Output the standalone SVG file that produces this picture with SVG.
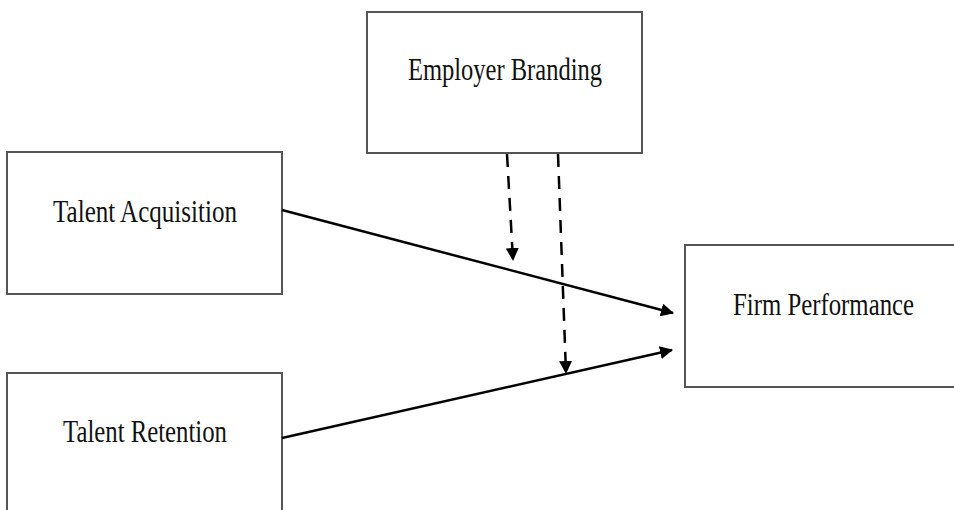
<svg xmlns="http://www.w3.org/2000/svg" width="954" height="510" viewBox="0 0 954 510">
<style>
.box{fill:#fff;stroke:#555;stroke-width:2}
.lbl{font-family:"Liberation Serif","Times New Roman",serif;font-size:31px;fill:#111;text-anchor:middle}
.edge{stroke:#000;stroke-width:2.5;fill:none}
.dash{stroke:#000;stroke-width:2.5;fill:none;stroke-dasharray:13,9}
</style>
<defs>
<marker id="ahl" markerWidth="13" markerHeight="13" refX="12" refY="6.5" orient="auto" markerUnits="userSpaceOnUse" viewBox="0 0 13 13">
<path d="M0,0 L13,6.5 L0,13 z" fill="#000"/>
</marker>
</defs>
<rect width="954" height="510" fill="#fff"/>
<g id="employer-branding">
<rect class="box" x="367" y="12" width="275" height="141"/>
<text class="lbl" x="505" y="80" textLength="194" lengthAdjust="spacingAndGlyphs">Employer Branding</text>
</g>
<g id="talent-acquisition">
<rect class="box" x="7" y="152" width="275" height="142"/>
<text class="lbl" x="145" y="222" textLength="184" lengthAdjust="spacingAndGlyphs">Talent Acquisition</text>
</g>
<g id="talent-retention">
<path class="box" d="M7,510 V373 H282 V510"/>
<text class="lbl" x="145" y="442" textLength="164" lengthAdjust="spacingAndGlyphs">Talent Retention</text>
</g>
<g id="firm-performance">
<path class="box" d="M954,245 H685 V387 H954"/>
<text class="lbl" transform="translate(823.5,315) scale(0.8,1)" x="0" y="0">Firm Performance</text>
</g>
<g id="connectors">
<line class="edge" x1="282" y1="210" x2="673" y2="313" marker-end="url(#ahl)"/>
<line class="edge" x1="282" y1="438" x2="672" y2="350" marker-end="url(#ahl)"/>
<line class="dash" x1="507" y1="154" x2="513" y2="260" marker-end="url(#ahl)"/>
<line class="dash" x1="558" y1="154" x2="566" y2="373" marker-end="url(#ahl)"/>
</g>
</svg>
